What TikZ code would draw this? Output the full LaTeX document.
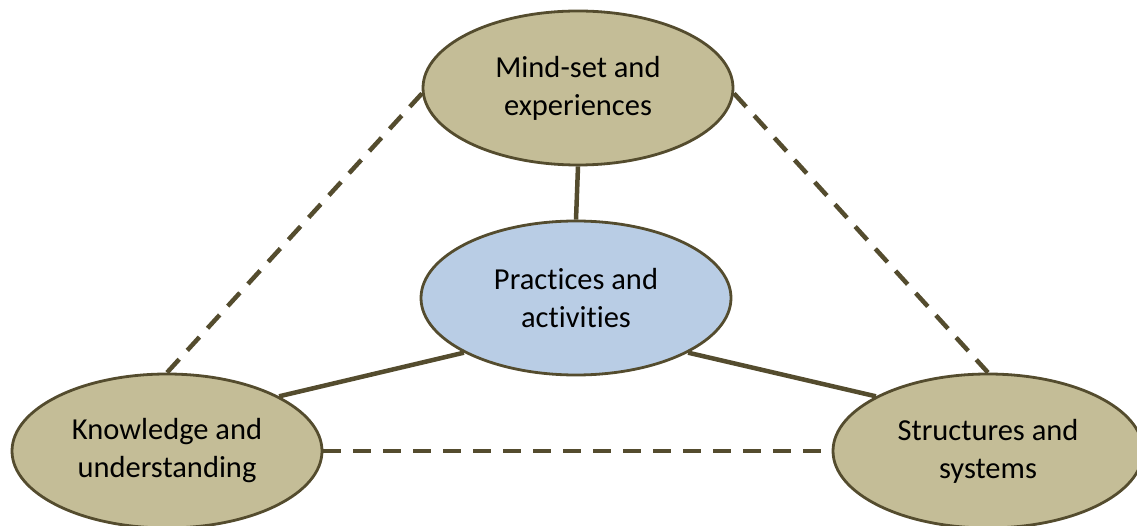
\documentclass[tikz,border=0pt]{standalone}
\usepackage{fontspec}
\setmainfont[Ligatures={NoCommon}]{Carlito}
\usetikzlibrary{shapes.geometric}
\definecolor{edgecol}{RGB}{84,76,46}
\definecolor{tanfill}{RGB}{196,189,151}
\definecolor{bluefill}{RGB}{185,205,229}
\begin{document}
\begin{tikzpicture}[x=1pt,y=1pt,
  oval/.style={ellipse,draw=edgecol,line width=2.8pt,fill=tanfill,minimum width=310pt,minimum height=154pt,inner sep=0pt,align=center,font=\fontsize{30.5}{38}\selectfont},
  solidlink/.style={draw=edgecol,line width=4.5pt},
  dashlink/.style={draw=edgecol,line width=4.5pt,dash pattern=on 18pt off 12pt}]
\useasboundingbox (0,0) rectangle (1137,525);
\node[oval] (top) at (578,437) {Mind-set and\\experiences};
\node[oval,fill=bluefill] (mid) at (576,227) {Practices and\\activities};
\node[oval] (left) at (167,74) {Knowledge and\\understanding};
\node[oval] (right) at (988,74) {Structures and\\systems};
\draw[solidlink] (top.south) -- (mid.north);
\draw[solidlink] (mid.206) -- (left.26);
\draw[solidlink] (mid.-26) -- (right.154);
\draw[dashlink] (top.182) -- (left.north);
\draw[dashlink] (top.-2) -- (right.north);
\draw[dashlink] (left.east) -- (right.west);
\end{tikzpicture}
\end{document}
